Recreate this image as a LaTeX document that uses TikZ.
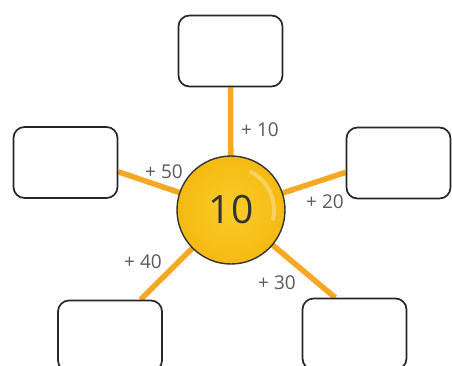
\documentclass[tikz,border=0pt]{standalone}
\usepackage{fontspec}
\setmainfont{Open Sans}
\usetikzlibrary{positioning, calc, backgrounds}
\definecolor{sunyellow}{HTML}{FBCB2A}
\definecolor{sundeep}{HTML}{F5BA12}
\definecolor{rayorange}{HTML}{F4A823}
\definecolor{inkgray}{HTML}{5A5A5A}
\tikzset{
  box/.style={
    draw=black!85, fill=white, line width=1.7pt,
    rounded corners=11pt, minimum width=104pt, minimum height=71pt
  },
  sun/.style={
    circle, draw=black!80, line width=1.4pt, minimum size=108pt,
    inner color=sunyellow, outer color=sundeep,
    text=black!80, font=\fontsize{39}{41}\selectfont
  },
  ray/.style={draw=rayorange, line width=5.5pt},
  lbl/.style={text=inkgray, font=\fontsize{19}{21}\selectfont, inner sep=1pt}
}

\begin{document}
\begin{tikzpicture}[x=1pt, y=-1pt]
  \useasboundingbox (0,0) rectangle (452,365);

  \node[sun] (hub) at (231,210) {10};
  \draw[white, opacity=0.3, line width=4pt, line cap=round]
    ($(hub.center)+(-62:43)$) arc[start angle=-62, end angle=12, radius=43];

  \node[box] (top)   at (230.5,51)  {};
  \node[box] (left)  at (65.5,162.5) {};
  \node[box] (right) at (398.5,163) {};
  \node[box] (botl)  at (110,336)   {};
  \node[box] (botr)  at (354.5,334) {};

  \begin{scope}[on background layer]
    \draw[ray] (hub.center) -- (top.south);
    \draw[ray] (hub.center) -- (left.-10);
    \draw[ray] (hub.center) -- (right.190);
    \draw[ray] (hub.center) -- (botl.50);
    \draw[ray] (hub.center) -- (botr.118);
  \end{scope}

  \node[lbl] (p10) at (260,130) {+ 10};
  \node[lbl] (p50) at (164,172) {+ 50};
  \node[lbl] (p20) at (325,202) {+ 20};
  \node[lbl] (p40) at (143,262) {+ 40};
  \node[lbl] (p30) at (277,283) {+ 30};
\end{tikzpicture}
\end{document}
